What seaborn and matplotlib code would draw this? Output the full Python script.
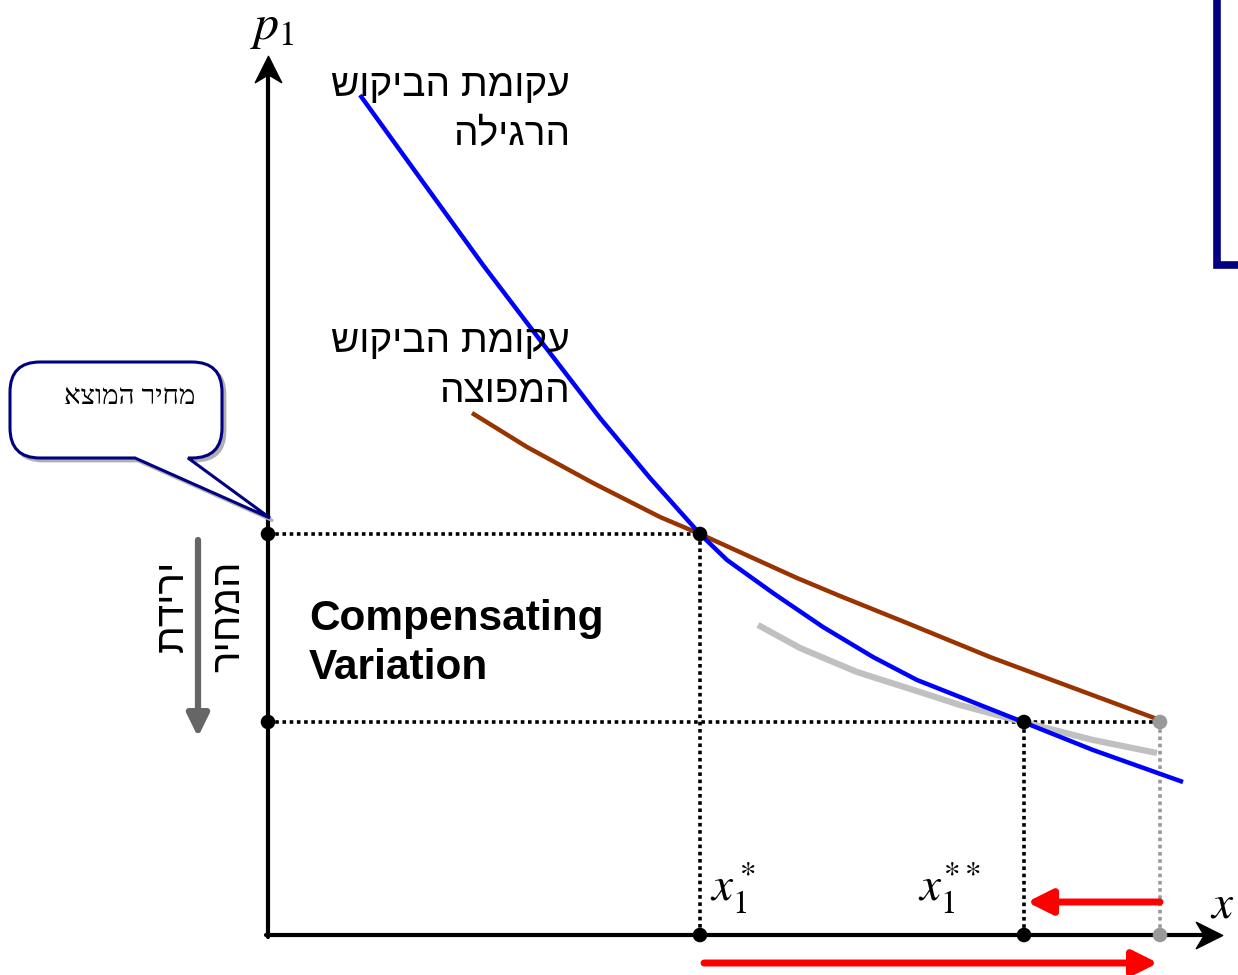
import matplotlib
matplotlib.use("Agg")
import matplotlib.pyplot as plt
from matplotlib.path import Path
from matplotlib.patches import PathPatch
import pandas as pd
import seaborn as sns

# ordinary (Marshallian) demand curve
blue_x = [0.92, 1.52, 2.15, 2.72, 3.32, 3.82, 4.32, 4.59, 5.05, 5.55, 6.05, 6.49, 6.92, 7.55, 8.25, 9.15]
blue_y = [8.40, 7.57, 6.70, 5.95, 5.17, 4.57, 4.01, 3.75, 3.42, 3.08, 2.78, 2.55, 2.38, 2.13, 1.85, 1.53]
# compensated (Hicksian) demand curve
brown_x = [2.04, 2.59, 3.25, 3.92, 4.32, 5.29, 5.72, 6.39, 7.22, 7.92, 8.89]
brown_y = [5.22, 4.88, 4.52, 4.18, 4.01, 3.57, 3.39, 3.12, 2.78, 2.52, 2.16]
# second compensated curve (grey)
gray_x = [4.90, 5.32, 5.89, 6.55, 6.92, 7.55, 8.25, 8.89]
gray_y = [3.10, 2.87, 2.63, 2.42, 2.30, 2.13, 1.95, 1.82]

# prices and quantities
p_old, p_new = 4.01, 2.13
x_star, x_star2, x_hat = 4.32, 7.56, 8.92

lbl_ordinary = ["עקומת הביקוש", "הרגילה"]
lbl_comp = ["עקומת הביקוש", "המפוצה"]
lbl_drop = ["ירידת", "המחיר"]
lbl_callout = "מחיר המוצא"

def heb(s):
    # matplotlib has no bidi support -> put the letters in visual order
    return s[::-1]

def P(px, py):
    # pixel position in the picture -> data coordinates (for decorations)
    return ((px - 268) / 100.0, (935 - py) / 100.0)

sns.set_style("white")
plt.rcParams["font.family"] = ["Liberation Sans", "DejaVu Sans"]
plt.rcParams["mathtext.fontset"] = "stix"
plt.rcParams["text.color"] = "black"

fig = plt.figure(figsize=(12.38, 9.75), dpi=100)
ax = fig.add_axes([0, 0, 1, 1])
ax.set_xlim(-2.68, 9.70)
ax.set_ylim(-0.40, 9.35)
ax.axis("off")

# axes: plain lines + notched ("stealth") arrow heads
head_up = Path([(0, 0.5), (0.5, -0.5), (0, -0.2), (-0.5, -0.5), (0, 0.5)],
               [Path.MOVETO, Path.LINETO, Path.LINETO, Path.LINETO, Path.CLOSEPOLY])
head_right = Path([(0.5, 0), (-0.5, 0.5), (-0.2, 0), (-0.5, -0.5), (0.5, 0)],
                  [Path.MOVETO, Path.LINETO, Path.LINETO, Path.LINETO, Path.CLOSEPOLY])
ax.plot(*zip(P(266, 935), P(1205, 935)), color="black", lw=3, zorder=4)
ax.plot(*zip(P(268, 937), P(268, 72)), color="black", lw=3, zorder=4)
ax.plot(*P(1209, 935), marker=head_right, ms=19, color="black", zorder=4)
ax.plot(*P(268, 69), marker=head_up, ms=19, color="black", zorder=4)

# guide lines
dots = (0, (1, 1))
ax.plot([0, x_star], [p_old, p_old], color="black", lw=2.6, ls=dots, zorder=2)
ax.plot([x_star, x_star], [p_old, 0], color="black", lw=2.6, ls=dots, zorder=2)
ax.plot([0, x_hat], [p_new, p_new], color="black", lw=2.6, ls=dots, zorder=2)
ax.plot([x_star2, x_star2], [p_new, 0], color="black", lw=2.6, ls=dots, zorder=2)
ax.plot([x_hat, x_hat], [p_new, 0], color="#999999", lw=2.6, ls=dots, zorder=2)

# curves
curves = pd.concat([
    pd.DataFrame({"x": gray_x, "y": gray_y, "curve": "gray"}),
    pd.DataFrame({"x": brown_x, "y": brown_y, "curve": "brown"}),
    pd.DataFrame({"x": blue_x, "y": blue_y, "curve": "blue"}),
])
sns.lineplot(data=curves, x="x", y="y", hue="curve", sort=False, estimator=None,
             palette={"gray": "#c0c0c0", "brown": "#993300", "blue": "#0000ff"},
             linewidth=3.2, legend=False, ax=ax, zorder=3)
ax.lines[-3].set_linewidth(4.5)
for ln in ax.lines[-3:]:
    ln.set_solid_joinstyle("round")
    ln.set_solid_capstyle("butt")

# points
pts_x = [0, x_star, 0, x_star2, x_star, x_star2]
pts_y = [p_old, p_old, p_new, p_new, 0, 0]
sns.scatterplot(x=pts_x, y=pts_y, color="black", s=110, edgecolor="none", ax=ax, zorder=5)
sns.scatterplot(x=[x_hat, x_hat], y=[p_new, 0], color="#999999", s=110,
                edgecolor="none", ax=ax, zorder=5)

# red arrows on the x axis
red_arrow = dict(arrowstyle="-|>,head_length=0.5,head_width=0.25",
                 lw=5, color="red", mutation_scale=30, shrinkA=0, shrinkB=0)
ax.annotate("", xy=P(1158, 963), xytext=P(704, 963), arrowprops=red_arrow)
ax.annotate("", xy=P(1027, 902), xytext=P(1160, 902), arrowprops=red_arrow)

# grey price-drop arrow
ax.annotate("", xy=P(198, 737), xytext=P(198, 540),
            arrowprops=dict(arrowstyle="-|>,head_length=0.45,head_width=0.22",
                            lw=4.5, color="#666666", mutation_scale=30, shrinkA=0, shrinkB=0))

# axis labels
ax.text(*P(272, 28), r"$p_1$", fontsize=36, ha="center", va="center")
ax.text(*P(1222, 905), r"$x$", fontsize=34, ha="center", va="center")
ax.text(*P(710, 888), r"$x_1^*$", fontsize=34, ha="left", va="center")
ax.text(*P(918, 888), r"$x_1^{**}$", fontsize=34, ha="left", va="center")

# hebrew labels
hfs = 28
ax.text(*P(570, 86), heb(lbl_ordinary[0]), fontsize=hfs, ha="right", va="center")
ax.text(*P(570, 135), heb(lbl_ordinary[1]), fontsize=hfs, ha="right", va="center")
ax.text(*P(570, 342), heb(lbl_comp[0]), fontsize=hfs, ha="right", va="center")
ax.text(*P(570, 392), heb(lbl_comp[1]), fontsize=hfs, ha="right", va="center")
ax.text(*P(172, 560), heb(lbl_drop[0]), fontsize=29, rotation=90,
        rotation_mode="anchor", ha="right", va="center")
ax.text(*P(228, 560), heb(lbl_drop[1]), fontsize=29, rotation=90,
        rotation_mode="anchor", ha="right", va="center")

ax.text(*P(309, 619), "Compensating", fontsize=30.5, fontweight="bold", ha="left", va="center")
ax.text(*P(309, 668), "Variation", fontsize=30.5, fontweight="bold", ha="left", va="center")

# callout bubble
L, R, T, B, r = 10, 222, 362, 458, 30
bx1, bx2, tip = 135, 188, (270, 518)
pix = [(L + r, T), (R - r, T), (R, T), (R, T + r), (R, B - r), (R, B), (R - r, B),
       (bx2, B), tip, (bx1, B), (L + r, B), (L, B), (L, B - r), (L, T + r), (L, T),
       (L + r, T), (L + r, T)]
codes = [Path.MOVETO, Path.LINETO, Path.CURVE3, Path.CURVE3, Path.LINETO, Path.CURVE3,
         Path.CURVE3, Path.LINETO, Path.LINETO, Path.LINETO, Path.LINETO, Path.CURVE3,
         Path.CURVE3, Path.LINETO, Path.CURVE3, Path.CURVE3, Path.CLOSEPOLY]
shadow = Path([P(x + 3, y + 3) for x, y in pix], codes)
bubble = Path([P(x, y) for x, y in pix], codes)
ax.add_patch(PathPatch(shadow, facecolor="#b0b0b0", edgecolor="#b0b0b0", lw=2, zorder=6))
ax.add_patch(PathPatch(bubble, facecolor="white", edgecolor="#000080", lw=2.2, zorder=7))
ax.text(*P(130, 397), heb(lbl_callout), fontsize=20, ha="center", va="center",
        family=["Liberation Serif", "DejaVu Serif"], zorder=8)

# navy bracket at the top right
ax.plot(*zip(P(1217, -5), P(1217, 265), P(1245, 265)), color="#000080", lw=5.5,
        solid_joinstyle="miter", zorder=2)

fig.savefig("out.png", dpi=100)
